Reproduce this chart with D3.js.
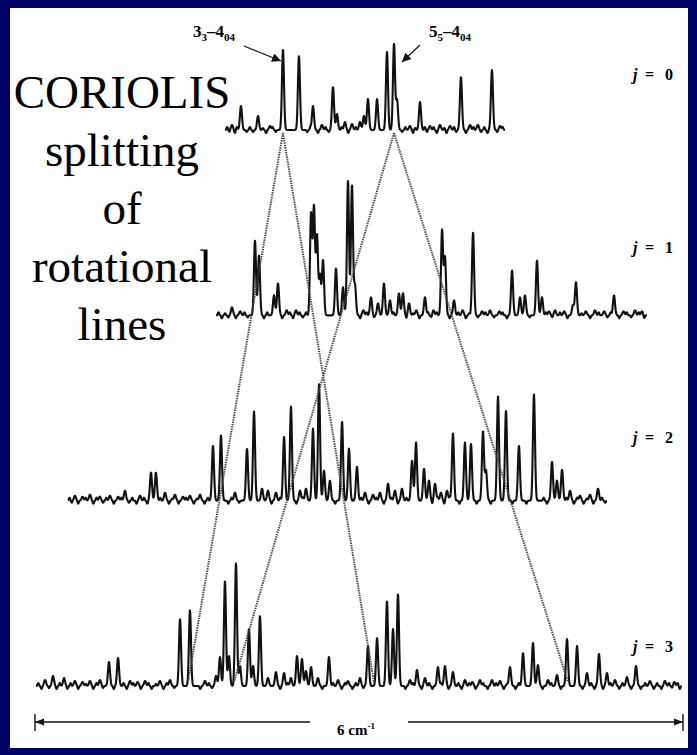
<!DOCTYPE html>
<html>
<head>
<meta charset="utf-8">
<script src="https://cdn.jsdelivr.net/npm/d3@7"></script>
<style>
  body { margin: 0; background: #000066; }
  svg { display: block; }
</style>
</head>
<body>
<div id="chart"></div>
<script>
// spectra: [position in cm-1 from left end of scale bar, intensity]
const jLevels = [0, 1, 2, 3];
const traceRange = [[1.759, 4.352], [1.676, 5.667], [0.306, 5.296], [0.009, 5.990]];

const peaksJ0 = [
  [1.824, 5], [1.907, 24], [2.065, 14], [2.176, 4], [2.296, 80], [2.444, 74], [2.574, 24],
  [2.657, 5], [2.759, 43], [2.796, 16], [2.870, 8], [2.935, 6], [3.009, 8], [3.046, 14],
  [3.083, 31], [3.167, 31], [3.259, 78], [3.324, 86], [3.352, 30], [3.472, 4], [3.565, 28],
  [3.657, 4], [3.750, 5], [3.843, 4], [3.944, 53], [4.028, 5], [4.100, 5], [4.231, 60], [4.306, 4]
];
const peaksJ1 = [
  [1.824, 8], [1.900, 4], [2.037, 75], [2.074, 60], [2.213, 20], [2.250, 32], [2.330, 5],
  [2.417, 5], [2.556, 102], [2.583, 108], [2.611, 80], [2.639, 40], [2.667, 55], [2.787, 47],
  [2.852, 28], [2.898, 135], [2.935, 130], [2.963, 30], [3.040, 5], [3.111, 18], [3.176, 12],
  [3.231, 32], [3.287, 15], [3.370, 22], [3.407, 22], [3.463, 12], [3.530, 5], [3.611, 18],
  [3.690, 5], [3.769, 85], [3.796, 58], [3.880, 15], [3.960, 5], [4.056, 83], [4.140, 4],
  [4.213, 5], [4.300, 4], [4.417, 45], [4.491, 18], [4.537, 20], [4.648, 55], [4.694, 18],
  [4.760, 4], [4.815, 5], [4.900, 4], [4.981, 10], [5.009, 33], [5.100, 4], [5.185, 5],
  [5.270, 4], [5.361, 20], [5.450, 4], [5.556, 5], [5.620, 4]
];
const peaksJ2 = [
  [0.370, 5], [0.440, 4], [0.509, 6], [0.600, 4], [0.694, 5], [0.770, 4], [0.833, 10],
  [0.972, 5], [1.074, 28], [1.120, 28], [1.204, 8], [1.296, 6], [1.370, 4], [1.435, 5],
  [1.528, 6], [1.648, 55], [1.722, 65], [1.852, 8], [1.963, 52], [2.028, 89], [2.102, 12],
  [2.157, 10], [2.231, 8], [2.306, 64], [2.370, 94], [2.454, 10], [2.509, 12], [2.574, 72],
  [2.630, 117], [2.676, 30], [2.731, 20], [2.843, 79], [2.907, 52], [2.981, 34], [3.056, 8],
  [3.130, 6], [3.194, 8], [3.269, 17], [3.333, 10], [3.398, 12], [3.491, 40], [3.528, 58],
  [3.602, 32], [3.648, 20], [3.704, 17], [3.759, 8], [3.815, 10], [3.870, 67], [3.981, 58],
  [4.037, 57], [4.148, 69], [4.176, 30], [4.287, 104], [4.361, 90], [4.481, 55], [4.620, 106],
  [4.787, 39], [4.833, 20], [4.880, 31], [4.954, 10], [5.046, 5], [5.139, 6], [5.213, 12]
];
const peaksJ3 = [
  [0.093, 6], [0.167, 10], [0.269, 8], [0.370, 5], [0.440, 4], [0.509, 5], [0.602, 6],
  [0.685, 24], [0.769, 28], [0.880, 5], [0.950, 4], [1.019, 5], [1.157, 5], [1.250, 6],
  [1.343, 67], [1.435, 76], [1.574, 5], [1.676, 10], [1.713, 29], [1.759, 105], [1.796, 30],
  [1.861, 123], [1.898, 20], [1.981, 57], [2.019, 20], [2.083, 70], [2.157, 8], [2.231, 14],
  [2.306, 13], [2.370, 8], [2.426, 30], [2.472, 27], [2.509, 15], [2.556, 19], [2.620, 8],
  [2.722, 29], [2.806, 6], [2.898, 5], [3.009, 8], [3.083, 40], [3.167, 48], [3.259, 85],
  [3.315, 57], [3.361, 92], [3.472, 6], [3.537, 16], [3.611, 8], [3.731, 19], [3.796, 20],
  [3.870, 14], [3.981, 6], [4.050, 4], [4.120, 6], [4.231, 6], [4.306, 5], [4.398, 19],
  [4.519, 33], [4.611, 43], [4.657, 21], [4.750, 6], [4.833, 11], [4.926, 47], [5.019, 40],
  [5.111, 13], [5.222, 32], [5.296, 13], [5.370, 6], [5.481, 9], [5.565, 20], [5.694, 5],
  [5.833, 5], [5.920, 4]
];

const rippleJ0 = [
  [1.78, 3], [1.80, -2], [1.85, -3], [1.87, 3], [1.96, -2], [1.99, 3], [2.02, -2], [2.11, 2],
  [2.14, -3], [2.20, 3], [2.23, -2], [2.52, -2], [2.55, 3], [2.62, -3], [2.69, 3], [2.72, -2],
  [2.84, 3], [2.90, -3], [2.97, 3], [3.40, -2], [3.43, 3], [3.50, -3], [3.52, 2], [3.61, 3],
  [3.63, -2], [3.69, 3], [3.72, -3], [3.79, 2], [3.81, -3], [3.88, 3], [3.90, -2], [3.99, -3],
  [4.06, 3], [4.13, -2], [4.16, 3], [4.19, -3], [4.28, -2], [4.33, 3]
];
const rippleJ1 = [
  [1.70, 3], [1.73, -3], [1.76, 2], [1.79, -2], [1.86, -3], [1.94, 3], [1.97, -2], [2.12, -3],
  [2.15, 3], [2.29, -3], [2.36, 3], [2.39, -3], [2.45, 3], [2.48, -2], [2.51, 3], [3.01, -3],
  [3.07, 3], [3.14, -2], [3.32, 3], [3.44, -3], [3.50, 2], [3.56, -3], [3.64, 3], [3.67, -2],
  [3.72, 3], [3.84, -3], [3.92, 3], [3.99, -3], [4.02, 2], [4.10, -2], [4.17, 3], [4.25, -2],
  [4.33, 3], [4.37, -3], [4.58, -2], [4.73, 3], [4.79, -2], [4.86, 3], [4.93, -3], [5.06, 2],
  [5.14, -3], [5.22, 3], [5.30, -2], [5.33, 3], [5.41, -3], [5.48, 3], [5.52, -2], [5.59, 3], [5.64, -3]
];
const rippleJ2 = [
  [0.32, 3], [0.34, -2], [0.40, -3], [0.47, 3], [0.54, -3], [0.57, 3], [0.63, -2], [0.66, 3],
  [0.73, -3], [0.80, 3], [0.87, -2], [0.90, 3], [0.94, -3], [1.01, 3], [1.04, -3], [1.16, 3],
  [1.24, -3], [1.27, 2], [1.33, -3], [1.40, 3], [1.47, -3], [1.50, 2], [1.57, -3], [1.60, 3],
  [1.79, -3], [1.82, 3], [1.89, -2], [2.19, -3], [2.27, 3], [2.42, -3], [2.48, 3], [2.78, -3],
  [3.02, 3], [3.09, -3], [3.16, 3], [3.23, -3], [3.30, 3], [3.36, -3], [3.44, 3], [3.68, -3],
  [3.73, 3], [3.79, -3], [3.84, 3], [3.93, -3], [4.09, -3], [4.22, -3], [4.42, -3], [4.55, -3],
  [4.71, 3], [4.74, -3], [4.92, 3], [4.99, -3], [5.02, 3], [5.08, -3], [5.11, 2], [5.17, -3], [5.25, 3], [5.28, -2]
];
const rippleJ3 = [
  [0.03, 3], [0.06, -3], [0.13, -2], [0.20, -3], [0.23, 3], [0.30, -3], [0.33, 3], [0.40, -3],
  [0.47, 2], [0.54, -3], [0.57, 3], [0.63, -2], [0.73, -3], [0.82, 3], [0.85, -3], [0.91, 3],
  [0.98, -3], [1.05, 3], [1.08, -3], [1.12, 2], [1.19, -3], [1.22, 3], [1.29, -2], [1.53, -3],
  [1.61, 3], [1.64, -2], [2.27, -3], [2.34, 3], [2.66, -3], [2.76, 3], [2.84, -3], [2.87, 3],
  [2.94, -3], [2.97, 3], [3.04, -2], [3.43, -3], [3.50, 3], [3.58, -3], [3.65, 3], [3.68, -3],
  [3.76, 3], [3.83, -3], [3.92, 3], [3.95, -3], [4.02, 3], [4.08, -3], [4.15, 3], [4.19, -3],
  [4.27, 3], [4.34, -3], [4.37, 2], [4.45, -3], [4.48, 3], [4.70, -3], [4.78, 3], [4.87, -3],
  [5.07, -3], [5.15, 3], [5.18, -3], [5.26, -3], [5.33, 3], [5.41, -3], [5.44, 3], [5.52, -3],
  [5.61, -3], [5.65, 3], [5.73, -3], [5.76, 3], [5.80, -3], [5.87, 3], [5.90, -2], [5.95, 3], [5.97, -3]
];
const allPeaks = [peaksJ0, peaksJ1, peaksJ2, peaksJ3];
const allRipple = [rippleJ0, rippleJ1, rippleJ2, rippleJ3];

// tracked lines: position at j = 0 and the two split positions at j = 3
const linkNames = ['3_3-4_04', '5_5-4_04'];
const linkFrom = [2.296, 3.324];
const linkTo = [[1.417, 3.139], [1.843, 4.935]];

const titleLines = ['CORIOLIS', 'splitting', 'of', 'rotational', 'lines'];
const scaleBarSpan = 6;

const W = 697, H = 755;
const svg = d3.select('#chart').append('svg')
  .attr('width', W)
  .attr('height', H);

svg.append('rect')
  .attr('x', 0).attr('y', 0).attr('width', W).attr('height', H)
  .attr('fill', '#000066');
svg.append('rect')
  .attr('x', 10).attr('y', 8).attr('width', 678).attr('height', 740)
  .attr('fill', '#fdfdfd');

const x = d3.scaleLinear().domain([0, scaleBarSpan]).range([35, 683]);
const yBase = d3.scaleLinear().domain([0, 3]).range([130, 686]);
const amp = d3.scaleLinear().domain([0, 100]).range([0, 100]);

function intensity(peaks, ripple, v) {
  let s = 0;
  peaks.forEach(p => {
    const d = (v - p[0]) / 0.0095;
    if (Math.abs(d) < 8) s += p[1] * Math.exp(-0.5 * d * d);
  });
  ripple.forEach(p => {
    const d = (v - p[0]) / 0.006;
    if (Math.abs(d) < 8) s += p[1] * Math.exp(-0.5 * d * d);
  });
  return s;
}

const line = d3.line()
  .x(d => x(d.v))
  .y(d => d.y);

jLevels.forEach((j, i) => {
  const [a, b] = traceRange[i];
  const pts = d3.range(a, b, 0.003).map(v => ({
    v: v,
    y: yBase(j) - amp(intensity(allPeaks[i], allRipple[i], v))
  }));
  svg.append('path')
    .datum(pts)
    .attr('d', line)
    .attr('fill', 'none')
    .attr('stroke', '#111')
    .attr('stroke-width', 2.1)
    .attr('stroke-linejoin', 'round');
});

// dotted connecting lines
linkFrom.forEach((f, k) => {
  linkTo[k].forEach(t => {
    svg.append('line')
      .attr('x1', x(f)).attr('y1', yBase(0) + 3)
      .attr('x2', x(t)).attr('y2', yBase(3) - 4)
      .attr('stroke', '#444')
      .attr('stroke-width', 2)
      .attr('stroke-dasharray', '1.4,1');
  });
});

// j labels
const jLabelY = [80, 253, 443, 652];
jLevels.forEach((j, i) => {
  const t = svg.append('text')
    .attr('y', jLabelY[i])
    .style('font-family', '"Liberation Serif", serif')
    .style('font-size', '16px')
    .style('font-weight', 'bold');
  t.append('tspan').attr('x', 633).style('font-style', 'italic').text('j');
  t.append('tspan').attr('x', 645).text('=');
  t.append('tspan').attr('x', 665).text(j);
});

// title text
svg.append('g')
  .selectAll('text')
  .data(titleLines)
  .enter()
  .append('text')
  .attr('x', 122)
  .attr('y', (d, i) => 108 + i * 58)
  .attr('text-anchor', 'middle')
  .style('font-family', '"Liberation Serif", "Times New Roman", serif')
  .style('font-size', '47px')
  .text(d => d);

// transition labels with arrows
svg.append('defs').append('marker')
  .attr('id', 'ah')
  .attr('viewBox', '0 0 10 10')
  .attr('refX', 10).attr('refY', 5)
  .attr('markerWidth', 9).attr('markerHeight', 9)
  .attr('markerUnits', 'userSpaceOnUse')
  .attr('orient', 'auto')
  .append('path')
  .attr('d', 'M0,0 L10,5 L0,10 Z')
  .attr('fill', '#111');

const labelX = [193, 429];
const arrowFrom = [[244, 46], [420, 45]];
const arrowTip = [[x(linkFrom[0]) - 2, 61], [x(linkFrom[1]) + 8, 62]];
linkNames.forEach((n, k) => {
  const parts = n.split(/[_-]/);
  const t = svg.append('text')
    .attr('x', labelX[k]).attr('y', 37)
    .style('font-family', '"Liberation Serif", serif')
    .style('font-size', '17px')
    .style('font-weight', 'bold');
  t.append('tspan').text(parts[0]);
  t.append('tspan').attr('dy', 4).style('font-size', '11px').text(parts[1]);
  t.append('tspan').attr('dy', -4).text('\u2013' + parts[2]);
  t.append('tspan').attr('dy', 4).style('font-size', '11px').text(parts[3]);
  svg.append('line')
    .attr('x1', arrowFrom[k][0]).attr('y1', arrowFrom[k][1])
    .attr('x2', arrowTip[k][0]).attr('y2', arrowTip[k][1])
    .attr('stroke', '#111')
    .attr('stroke-width', 1.2)
    .attr('marker-end', 'url(#ah)');
});

// scale bar
const barY = 722;
svg.append('line')
  .attr('x1', x(0)).attr('x2', 310).attr('y1', barY).attr('y2', barY)
  .attr('stroke', '#111').attr('stroke-width', 1.4);
svg.append('line')
  .attr('x1', 408).attr('x2', x(scaleBarSpan)).attr('y1', barY).attr('y2', barY)
  .attr('stroke', '#111').attr('stroke-width', 1.4);
[0, scaleBarSpan].forEach((v, i) => {
  const px = x(v);
  const dir = i === 0 ? 1 : -1;
  svg.append('line')
    .attr('x1', px).attr('x2', px).attr('y1', barY - 8).attr('y2', barY + 9)
    .attr('stroke', '#111').attr('stroke-width', 1.4);
  svg.append('path')
    .attr('d', `M${px},${barY} L${px + dir * 9},${barY - 3.5} L${px + dir * 9},${barY + 3.5} Z`)
    .attr('fill', '#111');
});
const sb = svg.append('text')
  .attr('x', 337).attr('y', 735)
  .style('font-family', '"Liberation Serif", serif')
  .style('font-size', '15px')
  .style('font-weight', 'bold');
sb.append('tspan').text(scaleBarSpan + ' cm');
sb.append('tspan').attr('dy', -6).style('font-size', '9px').text('-1');
</script>
</body>
</html>
